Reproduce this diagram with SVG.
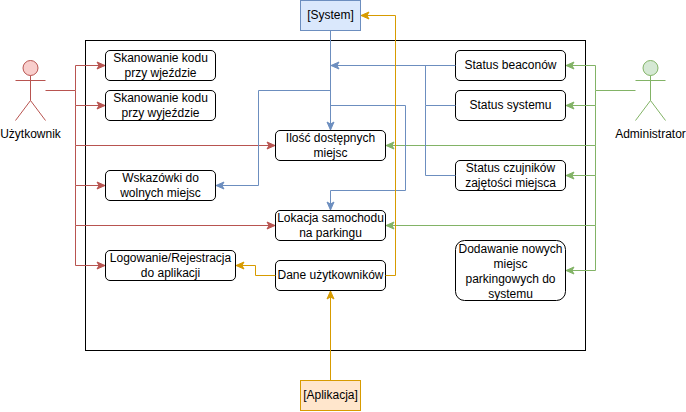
<svg xmlns="http://www.w3.org/2000/svg" width="686" height="412" viewBox="0 0 686 412">
<style>
text{font-family:"Liberation Sans",Arial,sans-serif;font-size:12px;fill:#000;text-anchor:middle}
.n{fill:#fff;stroke:#000;stroke-width:1}
.c{fill:none;stroke-width:1}
.r{stroke:#b85450}.b{stroke:#6c8ebf}.o{stroke:#d79b00}.g{stroke:#82b366}
</style>
<defs>
<marker id="ar" markerUnits="userSpaceOnUse" markerWidth="10" markerHeight="10" refX="9" refY="5" orient="auto"><path d="M1 1.5L9 5L1 8.5L3 5Z" fill="#b85450" stroke="#b85450"/></marker>
<marker id="ab" markerUnits="userSpaceOnUse" markerWidth="10" markerHeight="10" refX="9" refY="5" orient="auto"><path d="M1 1.5L9 5L1 8.5L3 5Z" fill="#6c8ebf" stroke="#6c8ebf"/></marker>
<marker id="ao" markerUnits="userSpaceOnUse" markerWidth="10" markerHeight="10" refX="9" refY="5" orient="auto"><path d="M1 1.5L9 5L1 8.5L3 5Z" fill="#d79b00" stroke="#d79b00"/></marker>
<marker id="ag" markerUnits="userSpaceOnUse" markerWidth="10" markerHeight="10" refX="9" refY="5" orient="auto"><path d="M1 1.5L9 5L1 8.5L3 5Z" fill="#82b366" stroke="#82b366"/></marker>
</defs>
<rect width="686" height="412" fill="#fff"/>
<g id="boundary"><rect x="85.5" y="40.5" width="500" height="310" fill="#fff" stroke="#000"/></g>
<g id="skan-wjazd"><rect class="n" x="105.5" y="50.5" width="110" height="30" rx="4.5"/><text x="160.5" y="62">Skanowanie kodu</text><text x="160.5" y="77">przy wjeździe</text></g>
<g id="skan-wyjazd"><rect class="n" x="105.5" y="90.5" width="110" height="30" rx="4.5"/><text x="160.5" y="102">Skanowanie kodu</text><text x="160.5" y="117">przy wyjeździe</text></g>
<g id="wskazowki"><rect class="n" x="105.5" y="170.5" width="110" height="30" rx="4.5"/><text x="160.5" y="182">Wskazówki do</text><text x="160.5" y="197">wolnych miejsc</text></g>
<g id="logowanie"><rect class="n" x="105.5" y="250.5" width="130" height="30" rx="4.5"/><text x="170.5" y="262">Logowanie/Rejestracja</text><text x="170.5" y="277">do aplikacji</text></g>
<g id="ilosc"><rect class="n" x="275.5" y="130.5" width="110" height="30" rx="4.5"/><text x="330.5" y="142">Ilość dostępnych</text><text x="330.5" y="157">miejsc</text></g>
<g id="lokacja"><rect class="n" x="275.5" y="210.5" width="110" height="30" rx="4.5"/><text x="330.5" y="222">Lokacja samochodu</text><text x="330.5" y="237">na parkingu</text></g>
<g id="dane"><rect class="n" x="275.5" y="260.5" width="110" height="30" rx="4.5"/><text x="330.5" y="279">Dane użytkowników</text></g>
<g id="status-beaconow"><rect class="n" x="455.5" y="50.5" width="110" height="30" rx="4.5"/><text x="510.5" y="69">Status beaconów</text></g>
<g id="status-systemu"><rect class="n" x="455.5" y="90.5" width="110" height="30" rx="4.5"/><text x="510.5" y="109">Status systemu</text></g>
<g id="status-czujnikow"><rect class="n" x="455.5" y="160.5" width="110" height="30" rx="4.5"/><text x="510.5" y="172">Status czujników</text><text x="510.5" y="187">zajętości miejsca</text></g>
<g id="dodawanie"><rect class="n" x="455.5" y="240.5" width="110" height="60" rx="9"/><text x="510.5" y="253">Dodawanie nowych</text><text x="510.5" y="268">miejsc</text><text x="510.5" y="283">parkingowych do</text><text x="510.5" y="298">systemu</text></g>
<g id="system"><rect x="300.5" y="0.5" width="60" height="30" fill="#dae8fc" stroke="#6c8ebf"/><text x="330.5" y="19">[System]</text></g>
<g id="aplikacja"><rect x="300.5" y="380.5" width="60" height="30" fill="#ffe6cc" stroke="#d79b00"/><text x="330.5" y="399">[Aplikacja]</text></g>
<g id="uzytkownik"><circle cx="30.5" cy="68" r="7.5" fill="#f8cecc" stroke="#b85450"/><path class="c r" d="M30.5 75.5V100.5M15.5 80.5H45.5M15.5 120.5L30.5 100.5L45.5 120.5"/><text x="30.5" y="138">Użytkownik</text></g>
<g id="administrator"><circle cx="650.5" cy="68" r="7.5" fill="#d5e8d4" stroke="#82b366"/><path class="c g" d="M650.5 75.5V100.5M635.5 80.5H665.5M635.5 120.5L650.5 100.5L665.5 120.5"/><text x="650.5" y="138">Administrator</text></g>
<g id="connectors">
<path class="c r" d="M45.5 90.5H75.5V65.5H105" marker-end="url(#ar)"/>
<path class="c r" d="M75.5 90.5V105.5H105" marker-end="url(#ar)"/>
<path class="c r" d="M75.5 105.5V145.5H275" marker-end="url(#ar)"/>
<path class="c r" d="M75.5 145.5V185.5H105" marker-end="url(#ar)"/>
<path class="c r" d="M75.5 185.5V225.5H275" marker-end="url(#ar)"/>
<path class="c r" d="M75.5 225.5V265.5H105" marker-end="url(#ar)"/>
<path class="c g" d="M635.5 90.5H595.5V65.5H566" marker-end="url(#ag)"/>
<path class="c g" d="M595.5 90.5V105.5H566" marker-end="url(#ag)"/>
<path class="c g" d="M595.5 105.5V145.5H386" marker-end="url(#ag)"/>
<path class="c g" d="M595.5 145.5V175.5H566" marker-end="url(#ag)"/>
<path class="c g" d="M595.5 175.5V225.5H386" marker-end="url(#ag)"/>
<path class="c g" d="M595.5 225.5V270.5H566" marker-end="url(#ag)"/>
<path class="c b" d="M330.5 30.5V130" marker-end="url(#ab)"/>
<path class="c b" d="M455.5 65.5H331" marker-end="url(#ab)"/>
<path class="c b" d="M455.5 105.5H425.5V65.5"/>
<path class="c b" d="M455.5 175.5H425.5V105.5"/>
<path class="c b" d="M330.5 90.5H258.5V185.5H216" marker-end="url(#ab)"/>
<path class="c b" d="M330.5 105.5H405.5V190.5H330.5V210" marker-end="url(#ab)"/>
<path class="c o" d="M330.5 380.5V291" marker-end="url(#ao)"/>
<path class="c o" d="M385.5 275.5H395.5V15.5H361" marker-end="url(#ao)"/>
<path class="c o" d="M275.5 275.5H255.5V265.5H236" marker-end="url(#ao)"/>
</g>
</svg>
